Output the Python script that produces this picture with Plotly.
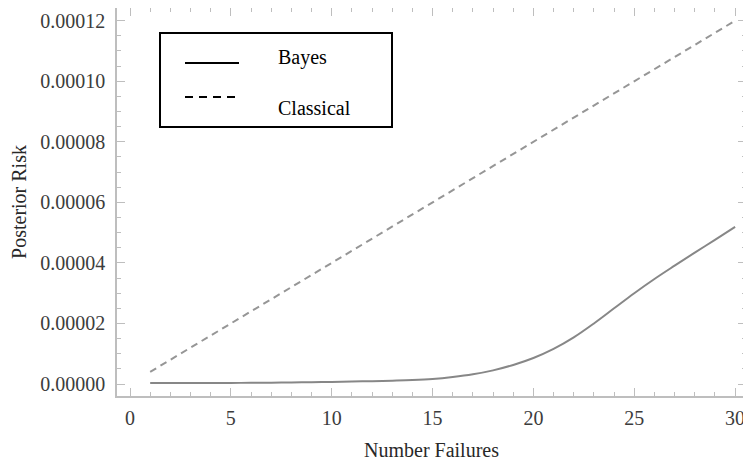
import plotly.graph_objects as go

# ---- data ----
failures = list(range(1, 31))
bayes = [0.30e-6, 0.30e-6, 0.30e-6, 0.30e-6, 0.35e-6, 0.40e-6, 0.45e-6, 0.50e-6, 0.60e-6, 0.70e-6,
         0.80e-6, 0.95e-6, 1.10e-6, 1.30e-6, 1.65e-6, 2.30e-6, 3.20e-6, 4.50e-6, 6.30e-6, 8.60e-6,
         11.6e-6, 15.4e-6, 20.0e-6, 25.0e-6, 30.0e-6, 34.7e-6, 39.1e-6, 43.4e-6, 47.6e-6, 51.9e-6]
classical = [4.0e-6, 8.0e-6, 12.0e-6, 16.0e-6, 20.0e-6, 24.0e-6, 28.0e-6, 32.0e-6, 36.0e-6, 40.0e-6,
             44.0e-6, 48.0e-6, 52.0e-6, 56.0e-6, 60.0e-6, 64.0e-6, 68.0e-6, 72.0e-6, 76.0e-6, 80.0e-6,
             84.0e-6, 88.0e-6, 92.0e-6, 96.0e-6, 100.0e-6, 104.0e-6, 108.0e-6, 112.0e-6, 116.0e-6, 120.0e-6]
x_ticks = [0, 5, 10, 15, 20, 25, 30]
y_ticks = [0.0, 0.00002, 0.00004, 0.00006, 0.00008, 0.00010, 0.00012]
y_tick_text = ["0.00000", "0.00002", "0.00004", "0.00006", "0.00008", "0.00010", "0.00012"]
legend_names = ["Bayes", "Classical"]

SERIF = "Liberation Serif, Times New Roman, serif"
FRAME = "rgb(190,190,190)"

fig = go.Figure()
fig.add_trace(go.Scatter(x=failures, y=bayes, mode="lines", name=legend_names[0],
                         line=dict(color="rgb(135,135,135)", width=2, shape="spline", smoothing=1.0),
                         showlegend=False))
fig.add_trace(go.Scatter(x=failures, y=classical, mode="lines", name=legend_names[1],
                         line=dict(color="rgb(150,150,150)", width=2, dash="7px,5px"),
                         showlegend=False))

# page body has an 8px default margin, so the figure is shifted by 8px
OFF = 8
L, R, T, B = 117 - OFF, 5, 0, 72
W, H = 751 - OFF, 468 - OFF
pw, ph = W - L - R, H - T - B


def px(xp):
    return (xp - OFF - L) / pw


def py(yp):
    return (H - B - (yp - OFF)) / ph


# legend box
fig.add_shape(type="rect", xref="paper", yref="paper", x0=px(160), x1=px(392), y0=py(127), y1=py(33),
              line=dict(color="black", width=2), fillcolor="white", layer="above")
fig.add_shape(type="line", xref="paper", yref="paper", x0=px(185), x1=px(239), y0=py(63), y1=py(63),
              line=dict(color="black", width=2), layer="above")
fig.add_shape(type="line", xref="paper", yref="paper", x0=px(185), x1=px(237), y0=py(97), y1=py(97),
              line=dict(color="black", width=2, dash="8px,6px"), layer="above")
fig.add_annotation(xref="paper", yref="paper", x=px(276), y=py(57), text=legend_names[0], showarrow=False,
                   xanchor="left", yanchor="middle", font=dict(family=SERIF, size=20, color="black"))
fig.add_annotation(xref="paper", yref="paper", x=px(276), y=py(108), text=legend_names[1], showarrow=False,
                   xanchor="left", yanchor="middle", font=dict(family=SERIF, size=20, color="black"))

fig.update_layout(
    width=W, height=H,
    margin=dict(l=L, r=R, t=T, b=B, autoexpand=False),
    paper_bgcolor="white", plot_bgcolor="white",
    font=dict(family=SERIF, size=20, color="rgb(50,50,50)"),
)
fig.update_xaxes(
    range=[-0.645, 30.54], showgrid=False, zeroline=False, automargin=False,
    showline=True, linecolor=FRAME, linewidth=1.5, mirror="ticks",
    ticks="inside", ticklen=8, tickcolor=FRAME, tickwidth=1,
    tickvals=x_ticks, ticklabelstandoff=3,
    minor=dict(dtick=1, ticks="inside", ticklen=4, tickcolor=FRAME, tickwidth=1, showgrid=False),
    title=dict(text="Number Failures", standoff=15, font=dict(family=SERIF, size=20, color="rgb(40,40,40)")),
    tickfont=dict(family=SERIF, size=20, color="rgb(60,60,60)"),
)
fig.update_yaxes(
    range=[-0.00000396, 0.0001242], showgrid=False, zeroline=False, automargin=False,
    showline=True, linecolor=FRAME, linewidth=1.5, mirror="ticks",
    ticks="inside", ticklen=8, tickcolor=FRAME, tickwidth=1,
    tickvals=y_ticks, ticktext=y_tick_text, ticklabelstandoff=6,
    minor=dict(dtick=0.000005, tick0=0, ticks="inside", ticklen=4, tickcolor=FRAME, tickwidth=1, showgrid=False),
    title=dict(text="Posterior Risk", standoff=8, font=dict(family=SERIF, size=20, color="rgb(40,40,40)")),
    tickfont=dict(family=SERIF, size=20, color="rgb(60,60,60)"),
)

fig.write_html("out.html")
